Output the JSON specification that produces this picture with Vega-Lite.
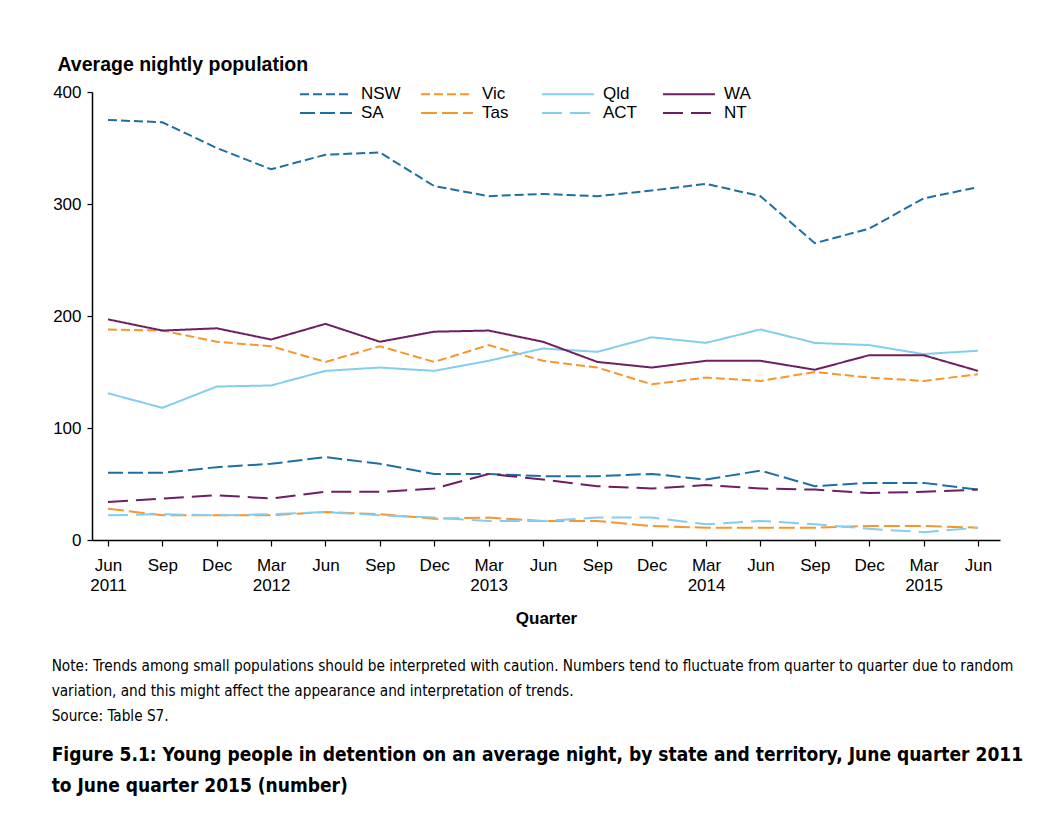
{
  "$schema": "https://vega.github.io/schema/vega-lite/v6.json",
  "width": 908,
  "height": 448,
  "autosize": {"type": "none"},
  "padding": {"left": 92, "top": 92, "right": 52, "bottom": 295},
  "background": "white",
  "config": {
    "font": "Liberation Sans",
    "view": {"stroke": null},
    "axis": {"domainColor": "black", "tickColor": "black", "labelColor": "black", "titleColor": "black", "domainWidth": 1.5, "tickWidth": 1.2}
  },
  "title": {
    "text": ["Note: Trends among small populations should be interpreted with caution. Numbers tend to fluctuate from quarter to quarter due to random", "variation, and this might affect the appearance and interpretation of trends.", "Source: Table S7."],
    "subtitle": ["Figure 5.1: Young people in detention on an average night, by state and territory, June quarter 2011", "to June quarter 2015 (number)"],
    "orient": "bottom",
    "anchor": "start",
    "frame": "bounds",
    "offset": 33,
    "dx": -1,
    "font": "DejaVu Sans Condensed",
    "fontSize": 15.2,
    "fontWeight": "normal",
    "lineHeight": 25,
    "color": "black",
    "subtitleFont": "DejaVu Sans Condensed",
    "subtitleFontSize": 19,
    "subtitleFontWeight": "bold",
    "subtitleLineHeight": 31,
    "subtitlePadding": 22,
    "subtitleColor": "black"
  },
  "data": {
    "values": [
      {"quarter": "Jun 2011", "state": "NSW", "v": 375}, {"quarter": "Sep 2011", "state": "NSW", "v": 373}, {"quarter": "Dec 2011", "state": "NSW", "v": 350}, {"quarter": "Mar 2012", "state": "NSW", "v": 331}, {"quarter": "Jun 2012", "state": "NSW", "v": 344}, {"quarter": "Sep 2012", "state": "NSW", "v": 346}, {"quarter": "Dec 2012", "state": "NSW", "v": 316}, {"quarter": "Mar 2013", "state": "NSW", "v": 307}, {"quarter": "Jun 2013", "state": "NSW", "v": 309}, {"quarter": "Sep 2013", "state": "NSW", "v": 307}, {"quarter": "Dec 2013", "state": "NSW", "v": 312}, {"quarter": "Mar 2014", "state": "NSW", "v": 318}, {"quarter": "Jun 2014", "state": "NSW", "v": 307}, {"quarter": "Sep 2014", "state": "NSW", "v": 265}, {"quarter": "Dec 2014", "state": "NSW", "v": 278}, {"quarter": "Mar 2015", "state": "NSW", "v": 305}, {"quarter": "Jun 2015", "state": "NSW", "v": 315},
      {"quarter": "Jun 2011", "state": "Vic", "v": 188}, {"quarter": "Sep 2011", "state": "Vic", "v": 187}, {"quarter": "Dec 2011", "state": "Vic", "v": 177}, {"quarter": "Mar 2012", "state": "Vic", "v": 173}, {"quarter": "Jun 2012", "state": "Vic", "v": 159}, {"quarter": "Sep 2012", "state": "Vic", "v": 173}, {"quarter": "Dec 2012", "state": "Vic", "v": 159}, {"quarter": "Mar 2013", "state": "Vic", "v": 174}, {"quarter": "Jun 2013", "state": "Vic", "v": 160}, {"quarter": "Sep 2013", "state": "Vic", "v": 154}, {"quarter": "Dec 2013", "state": "Vic", "v": 139}, {"quarter": "Mar 2014", "state": "Vic", "v": 145}, {"quarter": "Jun 2014", "state": "Vic", "v": 142}, {"quarter": "Sep 2014", "state": "Vic", "v": 150}, {"quarter": "Dec 2014", "state": "Vic", "v": 145}, {"quarter": "Mar 2015", "state": "Vic", "v": 142}, {"quarter": "Jun 2015", "state": "Vic", "v": 148},
      {"quarter": "Jun 2011", "state": "Qld", "v": 131}, {"quarter": "Sep 2011", "state": "Qld", "v": 118}, {"quarter": "Dec 2011", "state": "Qld", "v": 137}, {"quarter": "Mar 2012", "state": "Qld", "v": 138}, {"quarter": "Jun 2012", "state": "Qld", "v": 151}, {"quarter": "Sep 2012", "state": "Qld", "v": 154}, {"quarter": "Dec 2012", "state": "Qld", "v": 151}, {"quarter": "Mar 2013", "state": "Qld", "v": 160}, {"quarter": "Jun 2013", "state": "Qld", "v": 171}, {"quarter": "Sep 2013", "state": "Qld", "v": 168}, {"quarter": "Dec 2013", "state": "Qld", "v": 181}, {"quarter": "Mar 2014", "state": "Qld", "v": 176}, {"quarter": "Jun 2014", "state": "Qld", "v": 188}, {"quarter": "Sep 2014", "state": "Qld", "v": 176}, {"quarter": "Dec 2014", "state": "Qld", "v": 174}, {"quarter": "Mar 2015", "state": "Qld", "v": 166}, {"quarter": "Jun 2015", "state": "Qld", "v": 169},
      {"quarter": "Jun 2011", "state": "WA", "v": 197}, {"quarter": "Sep 2011", "state": "WA", "v": 187}, {"quarter": "Dec 2011", "state": "WA", "v": 189}, {"quarter": "Mar 2012", "state": "WA", "v": 179}, {"quarter": "Jun 2012", "state": "WA", "v": 193}, {"quarter": "Sep 2012", "state": "WA", "v": 177}, {"quarter": "Dec 2012", "state": "WA", "v": 186}, {"quarter": "Mar 2013", "state": "WA", "v": 187}, {"quarter": "Jun 2013", "state": "WA", "v": 177}, {"quarter": "Sep 2013", "state": "WA", "v": 159}, {"quarter": "Dec 2013", "state": "WA", "v": 154}, {"quarter": "Mar 2014", "state": "WA", "v": 160}, {"quarter": "Jun 2014", "state": "WA", "v": 160}, {"quarter": "Sep 2014", "state": "WA", "v": 152}, {"quarter": "Dec 2014", "state": "WA", "v": 165}, {"quarter": "Mar 2015", "state": "WA", "v": 165}, {"quarter": "Jun 2015", "state": "WA", "v": 151},
      {"quarter": "Jun 2011", "state": "SA", "v": 60}, {"quarter": "Sep 2011", "state": "SA", "v": 60}, {"quarter": "Dec 2011", "state": "SA", "v": 65}, {"quarter": "Mar 2012", "state": "SA", "v": 68}, {"quarter": "Jun 2012", "state": "SA", "v": 74}, {"quarter": "Sep 2012", "state": "SA", "v": 68}, {"quarter": "Dec 2012", "state": "SA", "v": 59}, {"quarter": "Mar 2013", "state": "SA", "v": 59}, {"quarter": "Jun 2013", "state": "SA", "v": 57}, {"quarter": "Sep 2013", "state": "SA", "v": 57}, {"quarter": "Dec 2013", "state": "SA", "v": 59}, {"quarter": "Mar 2014", "state": "SA", "v": 54}, {"quarter": "Jun 2014", "state": "SA", "v": 62}, {"quarter": "Sep 2014", "state": "SA", "v": 48}, {"quarter": "Dec 2014", "state": "SA", "v": 51}, {"quarter": "Mar 2015", "state": "SA", "v": 51}, {"quarter": "Jun 2015", "state": "SA", "v": 45},
      {"quarter": "Jun 2011", "state": "Tas", "v": 28}, {"quarter": "Sep 2011", "state": "Tas", "v": 22}, {"quarter": "Dec 2011", "state": "Tas", "v": 22}, {"quarter": "Mar 2012", "state": "Tas", "v": 22}, {"quarter": "Jun 2012", "state": "Tas", "v": 25}, {"quarter": "Sep 2012", "state": "Tas", "v": 23}, {"quarter": "Dec 2012", "state": "Tas", "v": 19}, {"quarter": "Mar 2013", "state": "Tas", "v": 20}, {"quarter": "Jun 2013", "state": "Tas", "v": 17}, {"quarter": "Sep 2013", "state": "Tas", "v": 17}, {"quarter": "Dec 2013", "state": "Tas", "v": 12.5}, {"quarter": "Mar 2014", "state": "Tas", "v": 11}, {"quarter": "Jun 2014", "state": "Tas", "v": 11}, {"quarter": "Sep 2014", "state": "Tas", "v": 11}, {"quarter": "Dec 2014", "state": "Tas", "v": 12.5}, {"quarter": "Mar 2015", "state": "Tas", "v": 12.5}, {"quarter": "Jun 2015", "state": "Tas", "v": 11},
      {"quarter": "Jun 2011", "state": "ACT", "v": 22}, {"quarter": "Sep 2011", "state": "ACT", "v": 23}, {"quarter": "Dec 2011", "state": "ACT", "v": 22}, {"quarter": "Mar 2012", "state": "ACT", "v": 23}, {"quarter": "Jun 2012", "state": "ACT", "v": 25}, {"quarter": "Sep 2012", "state": "ACT", "v": 22}, {"quarter": "Dec 2012", "state": "ACT", "v": 20}, {"quarter": "Mar 2013", "state": "ACT", "v": 17}, {"quarter": "Jun 2013", "state": "ACT", "v": 17}, {"quarter": "Sep 2013", "state": "ACT", "v": 20}, {"quarter": "Dec 2013", "state": "ACT", "v": 20}, {"quarter": "Mar 2014", "state": "ACT", "v": 14}, {"quarter": "Jun 2014", "state": "ACT", "v": 17}, {"quarter": "Sep 2014", "state": "ACT", "v": 14}, {"quarter": "Dec 2014", "state": "ACT", "v": 10}, {"quarter": "Mar 2015", "state": "ACT", "v": 7}, {"quarter": "Jun 2015", "state": "ACT", "v": 11},
      {"quarter": "Jun 2011", "state": "NT", "v": 34}, {"quarter": "Sep 2011", "state": "NT", "v": 37}, {"quarter": "Dec 2011", "state": "NT", "v": 40}, {"quarter": "Mar 2012", "state": "NT", "v": 37}, {"quarter": "Jun 2012", "state": "NT", "v": 43}, {"quarter": "Sep 2012", "state": "NT", "v": 43}, {"quarter": "Dec 2012", "state": "NT", "v": 46}, {"quarter": "Mar 2013", "state": "NT", "v": 59}, {"quarter": "Jun 2013", "state": "NT", "v": 54}, {"quarter": "Sep 2013", "state": "NT", "v": 48}, {"quarter": "Dec 2013", "state": "NT", "v": 46}, {"quarter": "Mar 2014", "state": "NT", "v": 49}, {"quarter": "Jun 2014", "state": "NT", "v": 46}, {"quarter": "Sep 2014", "state": "NT", "v": 45}, {"quarter": "Dec 2014", "state": "NT", "v": 42}, {"quarter": "Mar 2015", "state": "NT", "v": 43}, {"quarter": "Jun 2015", "state": "NT", "v": 45}
    ]
  },
  "mark": {"type": "line", "strokeWidth": 2},
  "encoding": {
    "x": {
      "field": "quarter",
      "type": "ordinal",
      "sort": ["Jun 2011", "Sep 2011", "Dec 2011", "Mar 2012", "Jun 2012", "Sep 2012", "Dec 2012", "Mar 2013", "Jun 2013", "Sep 2013", "Dec 2013", "Mar 2014", "Jun 2014", "Sep 2014", "Dec 2014", "Mar 2015", "Jun 2015"],
      "scale": {"type": "point", "padding": 0.35, "align": 0.42},
      "axis": {
        "title": "Quarter",
        "labelAngle": 0,
        "labelExpr": "(datum.value == 'Jun 2011' || indexof(datum.value, 'Mar') == 0) ? split(datum.value, ' ') : slice(datum.value, 0, 3)",
        "labelFontSize": 17,
        "labelLineHeight": 20,
        "labelPadding": 11,
        "tickSize": 6,
        "titleFontSize": 17,
        "titleFontWeight": "bold",
        "titlePadding": 17
      }
    },
    "y": {
      "field": "v",
      "type": "quantitative",
      "scale": {"domain": [0, 400]},
      "axis": {
        "values": [0, 100, 200, 300, 400],
        "grid": false,
        "title": "Average nightly population",
        "titleAngle": 0,
        "titleAlign": "left",
        "titleBaseline": "middle",
        "titleX": -35,
        "titleY": -28,
        "titleFontSize": 19.5,
        "titleFontWeight": "bold",
        "labelFontSize": 17,
        "tickSize": 5,
        "labelPadding": 6
      }
    },
    "color": {
      "field": "state",
      "type": "nominal",
      "scale": {
        "domain": ["NSW", "SA", "Vic", "Tas", "Qld", "ACT", "WA", "NT"],
        "range": ["#1d6fa3", "#1d6fa3", "#f7962a", "#f7962a", "#82cdf0", "#82cdf0", "#6c1f63", "#6c1f63"]
      },
      "legend": {"orient": "none", "legendX": 207, "legendY": -8.5, "columns": 4, "title": null, "symbolType": "M-1,0H4.47", "symbolSize": 361, "symbolStrokeWidth": 2, "labelFontSize": 17, "labelColor": "black", "labelOffset": 41, "columnPadding": 16, "rowPadding": 0, "gridAlign": "all"}
    },
    "strokeDash": {
      "field": "state",
      "type": "nominal",
      "scale": {
        "domain": ["NSW", "SA", "Vic", "Tas", "Qld", "ACT", "WA", "NT"],
        "range": [[9, 4], [15, 5], [9, 4], [16, 5], [1, 0], [20, 8], [1, 0], [20, 8]]
      },
      "legend": {"orient": "none", "legendX": 207, "legendY": -8.5, "columns": 4, "title": null, "symbolType": "M-1,0H4.47", "symbolSize": 361, "symbolStrokeWidth": 2, "labelFontSize": 17, "labelColor": "black", "labelOffset": 41, "columnPadding": 16, "rowPadding": 0, "gridAlign": "all"}
    }
  }
}
